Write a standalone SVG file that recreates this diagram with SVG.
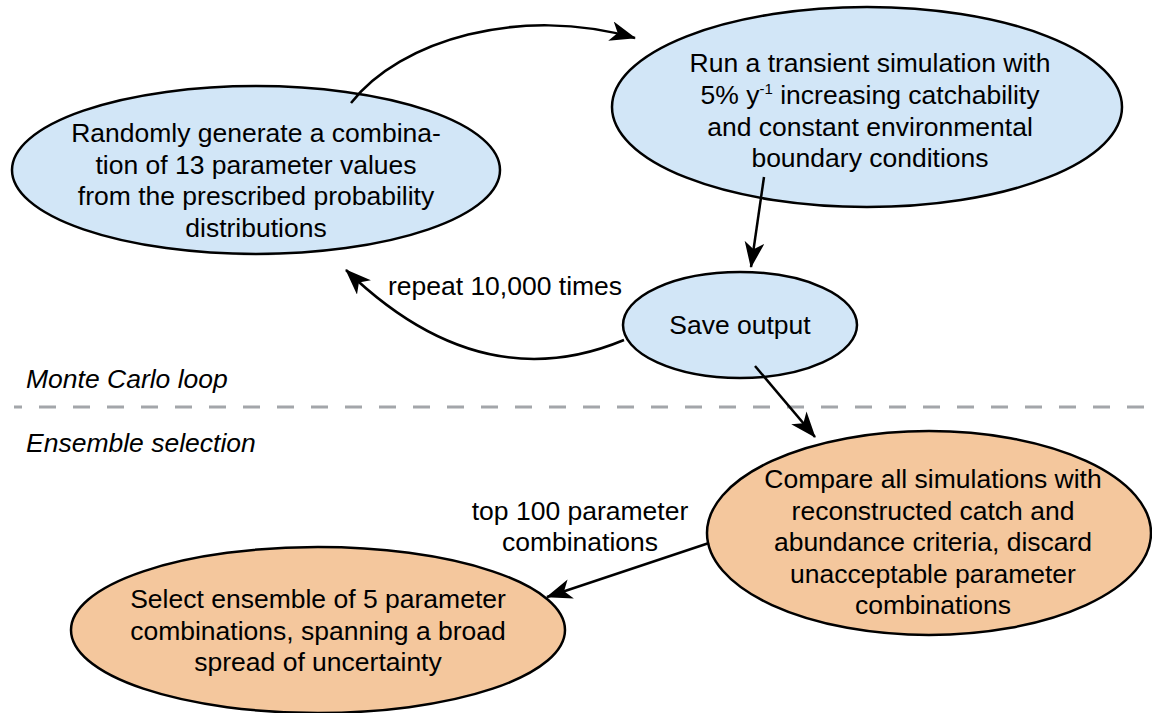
<svg xmlns="http://www.w3.org/2000/svg" width="1152" height="713" viewBox="0 0 1152 713">
<defs>
<style>
.t{font-family:"Liberation Sans",Arial,Helvetica,sans-serif;font-size:26.5px;fill:#000;text-anchor:middle}
.l{font-family:"Liberation Sans",Arial,Helvetica,sans-serif;font-size:26.5px;fill:#000}
.i{font-style:italic}
.blue{fill:#d2e6f7;stroke:#000;stroke-width:2.5}
.orange{fill:#f4c79d;stroke:#000;stroke-width:2.5}
.c{fill:none;stroke:#000;stroke-width:2.5}
</style>
<marker id="ah" markerUnits="userSpaceOnUse" markerWidth="28" markerHeight="22" refX="25" refY="10" orient="auto">
<path d="M0,0 L26,10 L0,20 L7,10 z" fill="#000"/>
</marker>
</defs>
<rect width="1152" height="713" fill="#fff"/>
<g id="separator">
<line x1="14" y1="407" x2="1152" y2="407" stroke="#a3a6aa" stroke-width="3" stroke-dasharray="17 17" stroke-dashoffset="9"/>
<text class="l i" x="26" y="388">Monte Carlo loop</text>
<text class="l i" x="26" y="452">Ensemble selection</text>
</g>
<g id="n1">
<ellipse class="blue" cx="256" cy="170" rx="244" ry="84"/>
<text class="t"><tspan x="256" y="142">Randomly generate a combina-</tspan><tspan x="256" y="173.6">tion of 13 parameter values</tspan><tspan x="256" y="205.2">from the prescribed probability</tspan><tspan x="256" y="236.8">distributions</tspan></text>
</g>
<g id="n2">
<ellipse class="blue" cx="867" cy="107" rx="255" ry="100"/>
<text class="t"><tspan x="870" y="72">Run a transient simulation with</tspan><tspan x="870" y="104">5% y<tspan font-size="15" dy="-10">-1</tspan><tspan dy="10"> increasing catchability</tspan></tspan><tspan x="870" y="136">and constant environmental</tspan><tspan x="870" y="167">boundary conditions</tspan></text>
</g>
<g id="n3">
<ellipse class="blue" cx="740" cy="325" rx="117" ry="53"/>
<text class="t" x="740" y="334">Save output</text>
</g>
<g id="n4">
<ellipse class="orange" cx="929" cy="533" rx="222" ry="102"/>
<text class="t"><tspan x="933" y="488">Compare all simulations with</tspan><tspan x="933" y="520">reconstructed catch and</tspan><tspan x="933" y="551">abundance criteria, discard</tspan><tspan x="933" y="583">unacceptable parameter</tspan><tspan x="933" y="614">combinations</tspan></text>
</g>
<g id="n5">
<ellipse class="orange" cx="318" cy="630" rx="247" ry="83"/>
<text class="t"><tspan x="318" y="608">Select ensemble of 5 parameter</tspan><tspan x="318" y="640">combinations, spanning a broad</tspan><tspan x="318" y="671">spread of uncertainty</tspan></text>
</g>
<g id="connectors">
<path class="c" d="M351,103 C400,40 520,5 635,38" marker-end="url(#ah)"/>
<path class="c" d="M764,177 L751,267" marker-end="url(#ah)"/>
<path class="c" d="M624,340 Q480,400 346,270" marker-end="url(#ah)"/>
<path class="c" d="M755,366 L815,437" marker-end="url(#ah)"/>
<path class="c" d="M709,543 L547,597" marker-end="url(#ah)"/>
<text class="t" x="505" y="295">repeat 10,000 times</text>
<text class="t"><tspan x="580" y="520">top 100 parameter</tspan><tspan x="580" y="551">combinations</tspan></text>
</g>
</svg>
